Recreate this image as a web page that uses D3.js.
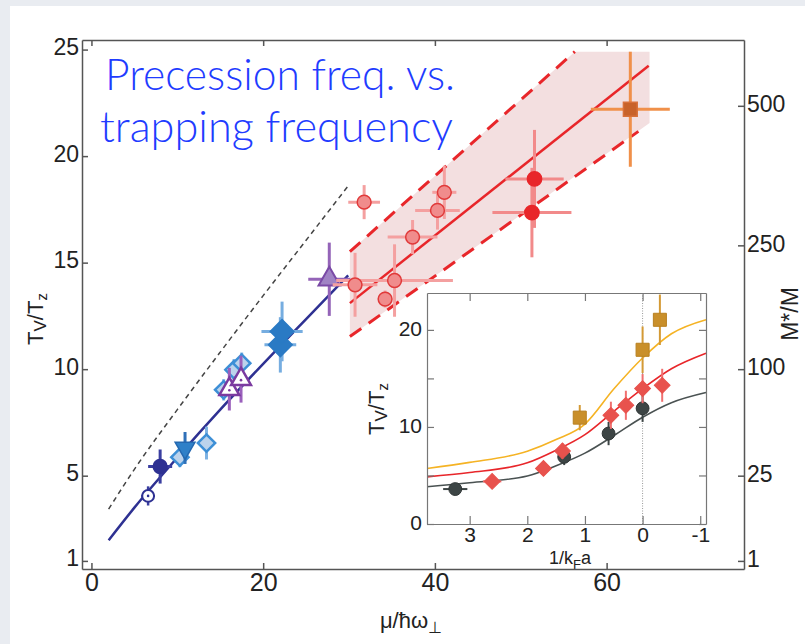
<!DOCTYPE html>
<html>
<head>
<meta charset="utf-8">
<script src="https://cdn.jsdelivr.net/npm/d3@7"></script>
<style>
  body { margin: 0; background: #e9ecf1; }
  svg { display: block; }
  text { font-family: "Liberation Sans", Arial, sans-serif; fill: #222; }
</style>
</head>
<body>
<script>
// ---- main panel data (x = mu / hbar omega_perp, y = T_V / T_z) ----
const darkOpen    = [{x: 6.6, y: 4.05, ex: 0.8, ey: 0.45}];
const darkFilled  = [{x: 8.0, y: 5.43, ex: 1.4, ey: 0.8}];
const lightDiam   = [{x: 10.3, y: 5.87, ex: 0.6, ey: 0.47}, {x: 13.4, y: 6.53, ex: 0, ey: 0.77},
                     {x: 15.4, y: 9.03, ex: 0.9, ey: 0.5}, {x: 16.6, y: 9.97, ex: 0.9, ey: 0.5},
                     {x: 17.5, y: 10.28, ex: 1.0, ey: 0.5}];
const blueDown    = [{x: 10.9, y: 6.3, ex: 0, ey: 0.75}];
const purpleOpen  = [{x: 16.06, y: 9.06, ex: 0.5, ey: 1.0}, {x: 17.42, y: 9.53, ex: 0.5, ey: 1.1}];
const blueDiam    = [{x: 22.0, y: 11.14, ex: 1.85, ey: 1.3}, {x: 22.2, y: 11.77, ex: 2.4, ey: 1.4}];
const purpleTri   = [{x: 27.7, y: 14.22, ex: 2.45, ey: 1.72}];
const redLight    = [{x: 31.76, y: 17.84, ex: 1.85, ey: 0.8}, {x: 30.7, y: 13.96, ex: 2.6, ey: 1.5},
                     {x: 34.2, y: 13.29, ex: 0, ey: 0.4}, {x: 35.3, y: 14.16, ex: 6.8, ey: 1.7},
                     {x: 37.4, y: 16.2, ex: 2.9, ey: 0.8}, {x: 40.3, y: 17.45, ex: 2.6, ey: 0.9},
                     {x: 41.1, y: 18.3, ex: 1.4, ey: 1.25}];
const redFilled   = [{x: 51.6, y: 18.93, ex: 3.4, ey: 2.3}, {x: 51.3, y: 17.35, ex: 4.6, ey: 2.1}];
const orangeSq    = [{x: 62.76, y: 22.2, ex: 4.6, ey: 2.7}];

const blueFitX   = [2, 5, 10, 15, 20, 25, 29.9];
const blueFitY   = [1.97, 3.5, 5.85, 8.1, 10.25, 12.35, 14.4];
const dashFitX   = [2, 5, 10, 15, 20, 25, 29.9];
const dashFitY   = [3.43, 5.3, 8.1, 10.8, 13.45, 16.05, 18.6];
const redFitX    = [30.1, 64.9];
const redFitY    = [13.1, 24.24];
const redUpX     = [30.1, 56.3];
const redUpY     = [15.52, 24.9];
const redLoX     = [30.1, 63.7];
const redLoY     = [11.53, 21.16];
const bandX      = [30.1, 56.3, 65, 65, 30.1];
const bandY      = [15.52, 24.9, 24.9, 21.55, 11.53];

const xTicks     = [0, 20, 40, 60];
const yTicks     = [1, 5, 10, 15, 20, 25];
const mTicks     = [1, 25, 100, 250, 500];

// ---- inset data (x = 1/kF a, y = T_V / T_z) ----
const insetCircles  = [{x: 3.25, y: 3.6, ex: 0.21, ey: 0}, {x: 1.36, y: 6.92, ex: 0, ey: 0.85},
                       {x: 0.59, y: 9.32, ex: 0, ey: 1.2}, {x: 0, y: 11.92, ex: 0, ey: 1.4}];
const insetDiamonds = [{x: 2.61, y: 4.39, ex: 0.16, ey: 0}, {x: 1.72, y: 5.72, ex: 0, ey: 0.3},
                       {x: 1.39, y: 7.53, ex: 0, ey: 0.8}, {x: 0.55, y: 11.2, ex: 0, ey: 1.4},
                       {x: 0.29, y: 12.23, ex: 0, ey: 1.5}, {x: 0, y: 13.95, ex: 0, ey: 1.5},
                       {x: -0.34, y: 14.29, ex: 0, ey: 1.7}];
const insetSquares  = [{x: 1.09, y: 10.96, ex: 0, ey: 1.3}, {x: 0, y: 17.95, ex: 0, ey: 2.4},
                       {x: -0.3, y: 21.04, ex: 0, ey: 2.6}];
const curveX    = [3.74, 3, 2, 1.5, 1, 0.5, 0, -0.5, -1.1];
const goldCurve = [5.72, 6.35, 7.5, 8.7, 10.3, 13.9, 17.1, 19.6, 21.05];
const redCurve  = [4.86, 5.3, 6.3, 7.6, 9.2, 11.6, 13.95, 16.0, 17.6];
const grayCurve = [3.84, 4.25, 4.95, 6.0, 7.3, 9.1, 11.0, 12.5, 13.55];
const insetXTicks = [3, 2, 1, 0, -1];
const insetYTicks = [0, 5, 10, 15, 20];

const W = 805, H = 644;
const svg = d3.select("body").append("svg").attr("width", W).attr("height", H);
svg.append("rect").attr("x", 10).attr("y", 6).attr("width", W - 10).attr("height", H - 6).attr("fill", "#fff");

const x  = d3.scaleLinear().domain([-1.1, 76]).range([82, 744]);
const yL = d3.scaleLinear().domain([0.62, 25.45]).range([569, 40]);
const yR = d3.scaleSqrt().domain([0.62 ** 2, 25.45 ** 2]).range([569, 40]);

const main = svg.append("g");

// shaded band + fit lines
const zip = (xs, ys) => xs.map((v, i) => [v, ys[i]]);
const line = (sx, sy) => d3.line().x(d => sx(d[0])).y(d => sy(d[1]));
main.append("path").attr("d", line(x, yL)(zip(bandX, bandY)) + "Z").attr("fill", "#f3dfe0");
main.append("path").attr("d", line(x, yL)(zip(redUpX, redUpY)))
    .attr("stroke", "#e8262a").attr("stroke-width", 3).attr("stroke-dasharray", "14,9").attr("fill", "none");
main.append("path").attr("d", line(x, yL)(zip(redLoX, redLoY)))
    .attr("stroke", "#e8262a").attr("stroke-width", 3).attr("stroke-dasharray", "14,9").attr("fill", "none");
main.append("path").attr("d", line(x, yL)(zip(redFitX, redFitY)))
    .attr("stroke", "#e8262a").attr("stroke-width", 2.5).attr("fill", "none");
main.append("path").attr("d", line(x, yL).curve(d3.curveMonotoneX)(zip(dashFitX, dashFitY)))
    .attr("stroke", "#444").attr("stroke-width", 1.5).attr("stroke-dasharray", "5,4").attr("fill", "none");
main.append("path").attr("d", line(x, yL).curve(d3.curveMonotoneX)(zip(blueFitX, blueFitY)))
    .attr("stroke", "#2e3192").attr("stroke-width", 2.5).attr("fill", "none");

function plotSeries(g, data, sx, sy, st) {
  const eg = g.append("g").attr("stroke", st.err).attr("stroke-width", st.ew || 3);
  data.forEach(d => {
    if (d.ex) eg.append("line").attr("x1", sx(d.x - d.ex)).attr("x2", sx(d.x + d.ex))
                .attr("y1", sy(d.y)).attr("y2", sy(d.y));
    if (d.ey) eg.append("line").attr("x1", sx(d.x)).attr("x2", sx(d.x))
                .attr("y1", sy(d.y - d.ey)).attr("y2", sy(d.y + d.ey));
  });
  const sym = d3.symbol().type(st.type).size(st.size);
  g.append("g").selectAll("path").data(data).join("path")
    .attr("d", sym)
    .attr("transform", d => `translate(${sx(d.x)},${sy(d.y)}) rotate(${st.rot || 0})`)
    .attr("fill", st.fill).attr("stroke", st.stroke).attr("stroke-width", st.sw || 1.5);
  if (st.dot) {
    g.append("g").selectAll("circle").data(data).join("circle")
      .attr("cx", d => sx(d.x)).attr("cy", d => sy(d.y) + (st.dotDy || 0)).attr("r", 1.3).attr("fill", st.stroke);
  }
}

plotSeries(main, darkOpen, x, yL, {type: d3.symbolCircle, size: 110, fill: "#fff", stroke: "#2e3192", sw: 2, err: "#3a3ea0", ew: 2.5, dot: true});
plotSeries(main, darkFilled, x, yL, {type: d3.symbolCircle, size: 150, fill: "#2e3192", stroke: "#2e3192", err: "#3a3ea0"});
plotSeries(main, lightDiam, x, yL, {type: d3.symbolSquare, size: 150, rot: 45, fill: "#bcd3ec", stroke: "#3d8fd6", sw: 2.5, err: "#7fb2e2"});
plotSeries(main, blueDown, x, yL, {type: d3.symbolTriangle, size: 170, rot: 180, fill: "#2f80c8", stroke: "#2468b0", err: "#2f70b8"});
plotSeries(main, purpleOpen, x, yL, {type: d3.symbolTriangle, size: 170, fill: "#fff", stroke: "#7b3aa0", sw: 2.5, err: "#9a60bc", dot: true, dotDy: 1});
plotSeries(main, blueDiam, x, yL, {type: d3.symbolSquare, size: 280, rot: 45, fill: "#2a7ac4", stroke: "#2a7ac4", err: "#76ade0"});
plotSeries(main, purpleTri, x, yL, {type: d3.symbolTriangle, size: 200, fill: "#a083c4", stroke: "#7a4aa6", sw: 2, err: "#9464b8"});
plotSeries(main, redLight, x, yL, {type: d3.symbolCircle, size: 150, fill: "#f08c8c", stroke: "#e03a3a", sw: 1.5, err: "#f4a0a0"});
plotSeries(main, redFilled, x, yL, {type: d3.symbolCircle, size: 160, fill: "#e8262a", stroke: "#e8262a", err: "#f28a8a"});
plotSeries(main, orangeSq, x, yL, {type: d3.symbolSquare, size: 190, fill: "#c8622a", stroke: "#d8703a", err: "#f0904a"});

// title
const title = svg.append("g").style("font-weight", 300);
title.append("text").attr("x", 105).attr("y", 90).attr("font-size", 44).style("fill", "#1f3cff")
  .attr("textLength", 350).attr("lengthAdjust", "spacingAndGlyphs").style("font-family", "Lato, sans-serif")
  .text("Precession freq. vs.");
title.append("text").attr("x", 100).attr("y", 142).attr("font-size", 44).style("fill", "#1f3cff")
  .attr("textLength", 353).attr("lengthAdjust", "spacingAndGlyphs").style("font-family", "Lato, sans-serif")
  .text("trapping frequency");

// ---- inset ----
const xi = d3.scaleLinear().domain([3.74, -1.1]).range([427, 706]);
const yi = d3.scaleLinear().domain([0, 23.8]).range([524, 293]);
const inset = svg.append("g");
inset.append("rect").attr("x", 427).attr("y", 293).attr("width", 706 - 427).attr("height", 524 - 293).attr("fill", "#fff");
inset.append("line").attr("x1", xi(0)).attr("x2", xi(0)).attr("y1", 293).attr("y2", 524)
  .attr("stroke", "#999").attr("stroke-width", 1).attr("stroke-dasharray", "1,1.5");

const curveLine = line(xi, yi).curve(d3.curveMonotoneX);
[[goldCurve, "#f5b324"], [redCurve, "#e8262a"], [grayCurve, "#4a5252"]].forEach(([ys, c]) => {
  inset.append("path").attr("d", curveLine(zip(curveX, ys))).attr("stroke", c).attr("stroke-width", 1.6).attr("fill", "none");
});

plotSeries(inset, insetCircles, xi, yi, {type: d3.symbolCircle, size: 130, fill: "#3d4545", stroke: "#2f3535", sw: 1, err: "#3d4545", ew: 2});
plotSeries(inset, insetDiamonds, xi, yi, {type: d3.symbolSquare, size: 125, rot: 45, fill: "#e8524d", stroke: "#e8524d", sw: 1, err: "#f07070", ew: 2});
plotSeries(inset, insetSquares, xi, yi, {type: d3.symbolSquare, size: 170, fill: "#c98f2a", stroke: "#b88020", sw: 1, err: "#d49a35", ew: 2});

function styleAxis(g, col, w) {
  g.select(".domain").attr("stroke", col).attr("stroke-width", w);
  g.selectAll(".tick line").attr("stroke", col).attr("stroke-width", w);
  g.selectAll(".tick text").style("fill", "#222");
}

const ia = svg.append("g");
const iL = ia.append("g").attr("transform", "translate(427,0)")
  .call(d3.axisLeft(yi).tickValues(insetYTicks).tickSize(-7).tickSizeOuter(0).tickPadding(5)
    .tickFormat(d => d % 10 === 0 ? String(d) : ""));
const iR = ia.append("g").attr("transform", "translate(706,0)")
  .call(d3.axisRight(yi).tickValues(insetYTicks).tickSize(-7).tickSizeOuter(0).tickFormat(""));
const iB = ia.append("g").attr("transform", "translate(0,524)")
  .call(d3.axisBottom(xi).tickValues(insetXTicks).tickSize(-8).tickSizeOuter(0).tickPadding(3)
    .tickFormat(d => String(d)));
const iT = ia.append("g").attr("transform", "translate(0,293)")
  .call(d3.axisTop(xi).tickValues(insetXTicks).tickSize(-8).tickSizeOuter(0).tickFormat(""));
[iL, iR, iB, iT].forEach(g => { styleAxis(g, "#777", 1.2); g.attr("font-family", null); g.attr("font-size", 21); });
iL.selectAll(".tick text").attr("dy", "0.25em");

const il = svg.append("text").attr("x", 570).attr("y", 564).attr("text-anchor", "middle").attr("font-size", 18);
il.append("tspan").text("1/k");
il.append("tspan").attr("font-size", 13).attr("dy", 5).text("F");
il.append("tspan").attr("dy", -5).text("a");

const iy = svg.append("text").attr("transform", "translate(384,409) rotate(-90)").attr("text-anchor", "middle").attr("font-size", 22);
iy.append("tspan").text("T");
iy.append("tspan").attr("font-size", 17).attr("dy", 3).text("V");
iy.append("tspan").attr("dy", -3).text("/T");
iy.append("tspan").attr("font-size", 15).attr("dy", 4).text("z");

// ---- main axes ----
const ax = svg.append("g");
const aL = ax.append("g").attr("transform", "translate(82,0)")
  .call(d3.axisLeft(yL).tickValues(yTicks).tickSize(-6).tickSizeOuter(0).tickPadding(3));
const aR = ax.append("g").attr("transform", "translate(744,0)")
  .call(d3.axisRight(yR).tickValues(mTicks).tickSize(-6).tickSizeOuter(0).tickPadding(3));
const aB = ax.append("g").attr("transform", "translate(0,569)")
  .call(d3.axisBottom(x).tickValues(xTicks).tickSize(-6).tickSizeOuter(0).tickPadding(4));
const aT = ax.append("g").attr("transform", "translate(0,40)")
  .call(d3.axisTop(x).tickValues(xTicks).tickSize(-6).tickSizeOuter(0).tickFormat(""));
[aL, aR, aB, aT].forEach(g => { styleAxis(g, "#555", 1.5); g.attr("font-family", null); });
aL.attr("font-size", 23); aR.attr("font-size", 23); aB.attr("font-size", 25);
aL.selectAll(".tick text").attr("dy", "0.22em");
aR.selectAll(".tick text").attr("dy", "0.25em");

const yl = svg.append("text").attr("transform", "translate(43,319) rotate(-90)").attr("text-anchor", "middle").attr("font-size", 22);
yl.append("tspan").text("T");
yl.append("tspan").attr("font-size", 17).attr("dy", 3).text("V");
yl.append("tspan").attr("dy", -3).text("/T");
yl.append("tspan").attr("font-size", 15).attr("dy", 4).text("z");

svg.append("text").attr("transform", "translate(798,314) rotate(-90)").attr("text-anchor", "middle").attr("font-size", 23).text("M*/M");

const xl = svg.append("text").attr("x", 411).attr("y", 628).attr("text-anchor", "middle").attr("font-size", 22);
xl.append("tspan").text("μ/ħω");
xl.append("tspan").attr("font-size", 16).attr("dy", 5).text("⊥");
</script>
</body>
</html>
